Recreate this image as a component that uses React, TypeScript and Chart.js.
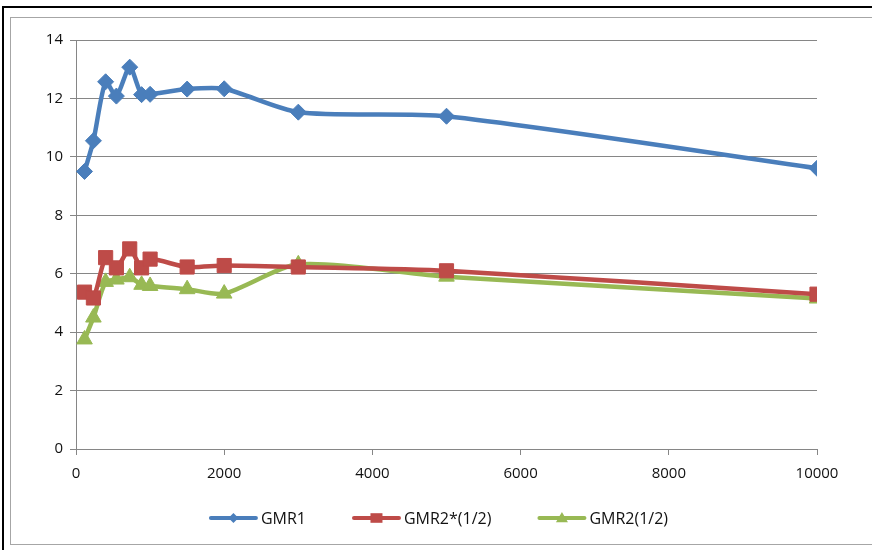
import React, { useEffect, useRef } from "react";
import { Chart, registerables } from "chart.js";

Chart.register(...registerables);

// Concentration points shared by all three series
const concentrations = [115, 235, 400, 545, 725, 885, 1000, 1500, 2000, 3000, 5000, 10000];

const gmr1 = [9.5, 10.55, 12.57, 12.08, 13.07, 12.13, 12.14, 12.32, 12.33, 11.53, 11.39, 9.61];
const gmr2Star = [5.37, 5.17, 6.55, 6.2, 6.85, 6.2, 6.5, 6.23, 6.28, 6.23, 6.1, 5.3];
const gmr2 = [3.75, 4.5, 5.72, 5.8, 5.88, 5.62, 5.58, 5.47, 5.32, 6.32, 5.9, 5.15];

const seriesLabels = ["GMR1", "GMR2*(1/2)", "GMR2(1/2)"];
const seriesColors = ["#4A7EBB", "#BE4B48", "#98B954"];
const seriesMarkers = ["rectRot", "rect", "triangle"];
const markerRadius = [8, 10, 9];

const xTickStep = 2000;
const yTickStep = 2;

const FONT_FAMILY = "'Open Sans', 'Liberation Sans', sans-serif";
const TEXT_COLOR = "#111111";
const GRID_COLOR = "#868686";

const toPoints = (ys: number[]) => concentrations.map((x, i) => ({ x, y: ys[i] }));

// Outer frame lines around the chart
const framePlugin = {
  id: "frame",
  beforeDraw(chart: any) {
    const { ctx, width, height } = chart;
    ctx.save();
    ctx.fillStyle = "#ffffff";
    ctx.fillRect(0, 0, width, height);
    ctx.strokeStyle = "#000000";
    ctx.lineWidth = 2;
    ctx.beginPath();
    ctx.moveTo(3, height);
    ctx.lineTo(3, 7);
    ctx.lineTo(width, 7);
    ctx.stroke();
    ctx.strokeStyle = "#a6a6a6";
    ctx.lineWidth = 1;
    ctx.strokeRect(10.5, 17.5, width, 527);
    ctx.restore();
  },
};

function drawMarker(ctx: CanvasRenderingContext2D, style: string, x: number, y: number, s: number) {
  ctx.beginPath();
  if (style === "rectRot") {
    ctx.moveTo(x, y - s);
    ctx.lineTo(x + s, y);
    ctx.lineTo(x, y + s);
    ctx.lineTo(x - s, y);
  } else if (style === "rect") {
    ctx.rect(x - s, y - s * 0.8, 2 * s, 1.6 * s);
  } else {
    ctx.moveTo(x, y - s);
    ctx.lineTo(x + s, y + s * 0.7);
    ctx.lineTo(x - s, y + s * 0.7);
  }
  ctx.closePath();
  ctx.fill();
}

// Bottom legend: a line sample with its marker, followed by the label
const lineLegendPlugin = {
  id: "lineLegend",
  afterDraw(chart: any) {
    const { ctx, chartArea } = chart;
    const lineLen = 49;
    const gap = 3;
    const spacing = 46;
    const y = 518;
    ctx.save();
    ctx.font = `16px ${FONT_FAMILY}`;
    const items = chart.data.datasets.map((ds: any, i: number) => ({
      ds,
      i,
      w: lineLen + gap + ctx.measureText(ds.label).width,
    }));
    const total = items.reduce((s: number, it: any) => s + it.w, 0) + spacing * (items.length - 1);
    let x = (chartArea.left + chartArea.right) / 2 - 8 - total / 2;
    const legendSizes = [5, 6, 6];
    for (const it of items) {
      const color = it.ds.borderColor;
      ctx.strokeStyle = color;
      ctx.fillStyle = color;
      ctx.lineWidth = 4;
      ctx.lineCap = "round";
      ctx.beginPath();
      ctx.moveTo(x + 2, y);
      ctx.lineTo(x + lineLen - 2, y);
      ctx.stroke();
      drawMarker(ctx, seriesMarkers[it.i], x + lineLen / 2, y, legendSizes[it.i]);
      ctx.fillStyle = TEXT_COLOR;
      ctx.textBaseline = "middle";
      ctx.textAlign = "left";
      ctx.fillText(it.ds.label, x + lineLen + gap, y + 1);
      x += it.w + spacing;
    }
    ctx.restore();
  },
};

export default function App() {
  const canvasRef = useRef<HTMLCanvasElement | null>(null);

  useEffect(() => {
    if (!canvasRef.current) return;
    const seriesValues = [gmr1, gmr2Star, gmr2];
    const chart = new Chart(canvasRef.current, {
      type: "line",
      data: {
        datasets: seriesValues.map((vals, i) => ({
          label: seriesLabels[i],
          data: toPoints(vals),
          borderColor: seriesColors[i],
          backgroundColor: seriesColors[i],
          borderWidth: 4.5,
          pointStyle: seriesMarkers[i] as any,
          pointRadius: markerRadius[i],
          pointBorderWidth: 1,
          pointBorderColor: seriesColors[i],
          pointBackgroundColor: seriesColors[i],
          tension: 0.25,
          fill: false,
        })),
      },
      options: {
        responsive: false,
        animation: false,
        layout: { padding: { left: 10, top: 40, right: 55, bottom: 61 } },
        plugins: {
          legend: { display: false },
          tooltip: { enabled: false },
        },
        scales: {
          x: {
            type: "linear",
            min: 0,
            max: 10000,
            ticks: {
              stepSize: xTickStep,
              padding: 10,
              color: TEXT_COLOR,
              font: { family: FONT_FAMILY, size: 15 },
              maxRotation: 0,
              callback: (v: any) => String(v),
            },
            grid: {
              drawOnChartArea: false,
              drawTicks: true,
              tickLength: 6,
              color: GRID_COLOR,
            },
            border: { color: GRID_COLOR, width: 1 },
            afterFit(scale: any) {
              scale.height = 40;
            },
          },
          y: {
            min: 0,
            max: 14,
            ticks: {
              stepSize: yTickStep,
              padding: 7,
              color: TEXT_COLOR,
              font: { family: FONT_FAMILY, size: 15 },
            },
            grid: {
              color: GRID_COLOR,
              tickLength: 6,
            },
            border: { color: GRID_COLOR, width: 1 },
            afterFit(scale: any) {
              scale.width = 66;
            },
          },
        },
      },
      plugins: [framePlugin, lineLegendPlugin],
    });
    return () => chart.destroy();
  }, []);

  return (
    <div style={{ position: "absolute", left: 0, top: 0, width: 872, height: 550 }}>
      <canvas ref={canvasRef} width={872} height={550} />
    </div>
  );
}
